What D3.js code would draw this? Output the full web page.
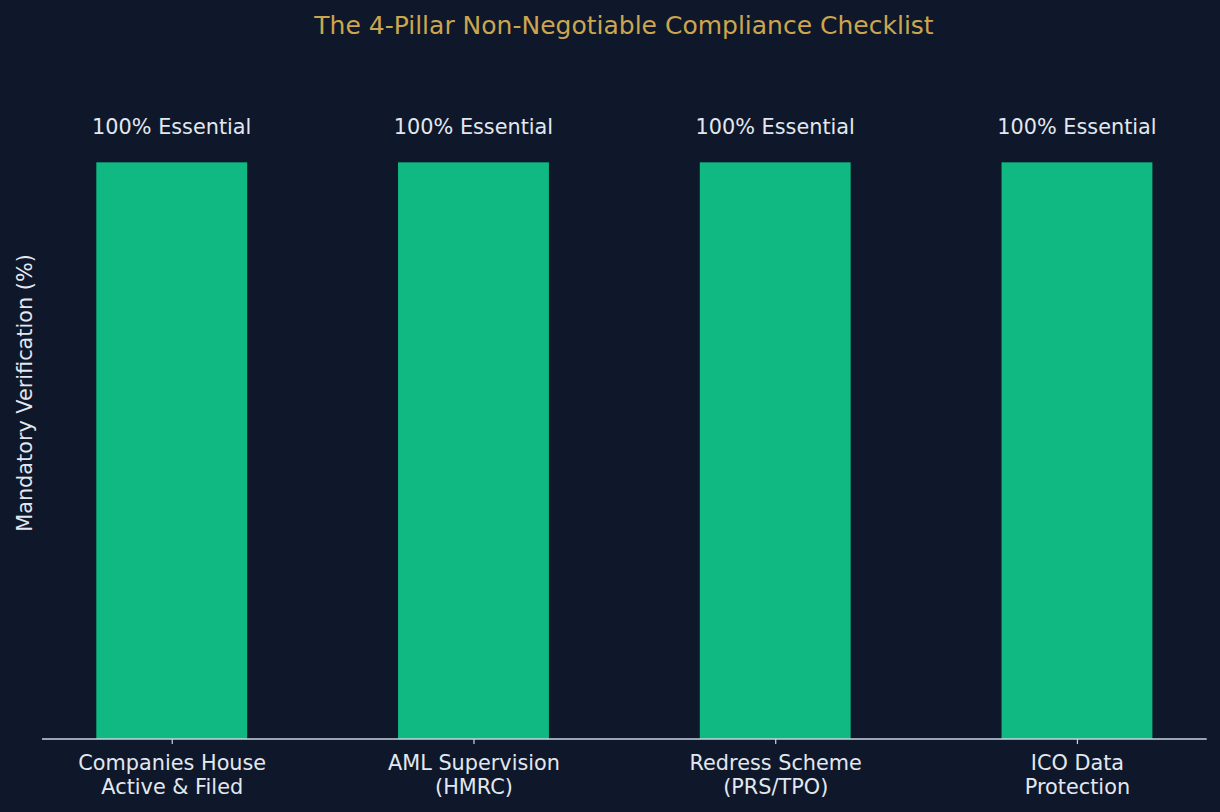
<!DOCTYPE html>
<html>
<head>
<meta charset="utf-8">
<script src="https://cdn.jsdelivr.net/npm/d3@7"></script>
<style>
  html, body { margin: 0; padding: 0; background: #0f172a; }
  svg { display: block; }
  svg text { font-family: "DejaVu Sans", sans-serif; }
</style>
</head>
<body>
<svg id="chart" width="1220" height="812"></svg>
<script>
const categories = ["Companies House\nActive & Filed", "AML Supervision\n(HMRC)", "Redress Scheme\n(PRS/TPO)", "ICO Data\nProtection"];
const values = [100, 100, 100, 100];
const barLabels = ["100% Essential", "100% Essential", "100% Essential", "100% Essential"];

const width = 1220, height = 812;
const margin = {left: 42, right: 13.3, top: 47, bottom: 73};
const svg = d3.select("#chart");

svg.append("rect").attr("width", width).attr("height", height).attr("fill", "#0f172a");

// matplotlib-like: index positions with small side margins
const x = d3.scaleLinear()
  .domain([-0.43, categories.length - 1 + 0.43])
  .range([margin.left, width - margin.right]);
const y = d3.scaleLinear().domain([0, 120]).range([height - margin.bottom, margin.top]);
const barW = x(0.5) - x(0);

svg.append("g")
  .selectAll("rect")
  .data(values)
  .join("rect")
  .attr("x", (d, i) => x(i) - barW / 2)
  .attr("y", d => y(d))
  .attr("width", barW)
  .attr("height", d => y(0) - y(d))
  .attr("fill", "#10b981");

svg.append("g")
  .selectAll("text")
  .data(values)
  .join("text")
  .attr("x", (d, i) => x(i))
  .attr("y", d => y(d) - 28)
  .attr("text-anchor", "middle")
  .attr("fill", "#e2e8f0")
  .attr("font-size", 20.8)
  .text((d, i) => barLabels[i]);

const xAxis = svg.append("g")
  .attr("transform", `translate(0,${y(0)})`)
  .call(d3.axisBottom(x).tickValues(d3.range(categories.length)).tickSize(5).tickFormat(""));
xAxis.select(".domain").attr("stroke", "#cbd5e1").attr("stroke-width", 1.3).attr("d", `M${margin.left},0H${width - margin.right}`);
xAxis.selectAll(".tick line").attr("stroke", "#cbd5e1").attr("stroke-width", 1.2);

xAxis.selectAll(".tick")
  .append("text")
  .attr("fill", "#e2e8f0")
  .attr("font-size", 20.8)
  .attr("text-anchor", "middle")
  .selectAll("tspan")
  .data(i => categories[i].split("\n"))
  .join("tspan")
  .attr("x", 0)
  .attr("y", (d, j) => 31 + j * 24)
  .text(d => d);

svg.append("text")
  .attr("transform", `translate(32,${(y(0) + y(120)) / 2}) rotate(-90)`)
  .attr("text-anchor", "middle")
  .attr("fill", "#e2e8f0")
  .attr("font-size", 20.8)
  .text("Mandatory Verification (%)");

svg.append("text")
  .attr("x", 624)
  .attr("y", 34)
  .attr("text-anchor", "middle")
  .attr("fill", "#cca64e")
  .attr("font-size", 25)
  .text("The 4-Pillar Non-Negotiable Compliance Checklist");
</script>
</body>
</html>
